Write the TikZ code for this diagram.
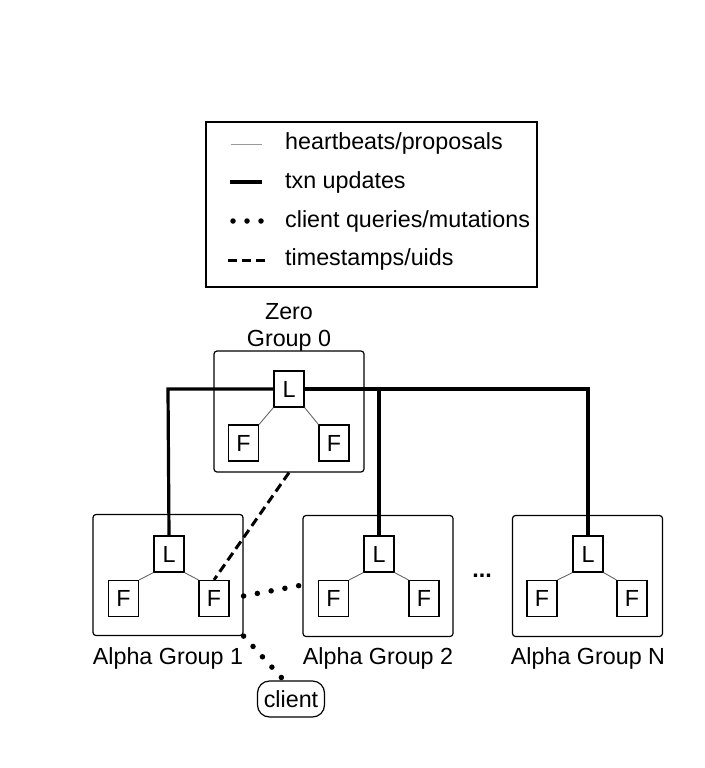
\documentclass[tikz,border=0pt]{standalone}
\usepackage{fontspec}
\setmainfont{Liberation Sans}
\begin{document}
\begin{tikzpicture}[x=1pt,y=-1pt,
  every node/.style={font=\fontsize{23.3}{27}\selectfont},
  nodebox/.style={draw, line width=1.2pt, minimum width=30pt, minimum height=36pt, inner sep=0pt},
  groupbox/.style={draw, line width=1.2pt, rounded corners=3pt, minimum width=150pt, minimum height=121pt, inner sep=0pt},
  thinlink/.style={draw=black!60, line width=0.9pt},
  txn/.style={line width=3.2pt},
  dotline/.style={line width=5.5pt, line cap=round, dash pattern=on 0pt off 14pt},
  dashline/.style={line width=3pt, dash pattern=on 9pt off 5pt},
  lbl/.style={anchor=west, inner sep=0pt}
]
\useasboundingbox (0,0) rectangle (704,768);

% legend
\node[draw, line width=1.2pt, minimum width=331pt, minimum height=165pt, inner sep=0pt] (legend) at (371.5,204.5) {};
\node[lbl] (t1) at (285,143) {heartbeats/proposals};
\node[lbl] (t2) at (285,182) {txn updates};
\node[lbl] (t3) at (285,221) {client queries/mutations};
\node[lbl] (t4) at (285,259) {timestamps/uids};
\coordinate (l1a) at (231,144); \coordinate (l1b) at (262,144);
\coordinate (l2a) at (230,182); \coordinate (l2b) at (262,182);
\coordinate (l3a) at (233,221); \coordinate (l3b) at (262,221);
\coordinate (l4a) at (228,260); \coordinate (l4b) at (266,260);
\draw[draw=black!40, line width=0.7pt] (l1a) -- (l1b);
\draw[txn] (l2a) -- (l2b);
\draw[dotline] (l3a) -- (l3b);
\draw[dashline] (l4a) -- (l4b);

% zero group
\node[align=center, inner sep=0pt] (zlabel) at (289,327) {Zero\\Group 0};
\node[groupbox] (zero) at (289,411.5) {};
\node[nodebox] (zL) at (289,389) {L};
\node[nodebox] (zF1) at (243.5,443) {F};
\node[nodebox] (zF2) at (334,443) {F};
\draw[thinlink] (zL.south west) -- (zF1.north east);
\draw[thinlink] (zL.south east) -- (zF2.north west);

% alpha groups
\node[groupbox] (a1) at (168,575) {};
\node[nodebox] (a1L) at (169,554) {L};
\node[nodebox] (a1F1) at (123.5,598.5) {F};
\node[nodebox] (a1F2) at (214,598.5) {F};
\draw[thinlink] (a1L.south west) -- (a1F1.north east);
\draw[thinlink] (a1L.south east) -- (a1F2.north west);
\node[inner sep=0pt] (a1lab) at (168,658) {Alpha Group 1};

\node[groupbox] (a2) at (378,576) {};
\node[nodebox] (a2L) at (379,554) {L};
\node[nodebox] (a2F1) at (333.5,598.5) {F};
\node[nodebox] (a2F2) at (424,598.5) {F};
\draw[thinlink] (a2L.south west) -- (a2F1.north east);
\draw[thinlink] (a2L.south east) -- (a2F2.north west);
\node[inner sep=0pt] (a2lab) at (378,658) {Alpha Group 2};

\node[groupbox] (aN) at (587.5,576) {};
\node[nodebox] (aNL) at (588,554) {L};
\node[nodebox] (aNF1) at (542,598.5) {F};
\node[nodebox] (aNF2) at (632,598.5) {F};
\draw[thinlink] (aNL.south west) -- (aNF1.north east);
\draw[thinlink] (aNL.south east) -- (aNF2.north west);
\node[inner sep=0pt] (aNlab) at (588,658) {Alpha Group N};

\node[inner sep=0pt, font=\fontsize{23.3}{27}\selectfont\bfseries] (dots) at (482,576) {...};

% client
\node[draw, line width=1.2pt, rounded corners=12pt, minimum width=67pt, minimum height=36pt, inner sep=2pt] (client) at (291,699) {client};

% txn updates
\coordinate (cl) at (168,389);
\coordinate (cr) at (588,389);
\coordinate (c2) at (379,389);
\draw[txn] (zL.west) -- (cl) -- (a1L.north);
\draw[txn] (zL.east) -- (cr) -- (aNL.north);
\draw[txn] (c2) -- (a2L.north);

% timestamps
\draw[dashline] (zero.south) -- (a1F2.north);

% client queries
\draw[dotline] ([yshift=-21pt]a1.east) -- ([yshift=-9pt]a2.west);
\draw[dotline] (a1.south east) -- ([xshift=-7pt]client.north);
\end{tikzpicture}
\end{document}
